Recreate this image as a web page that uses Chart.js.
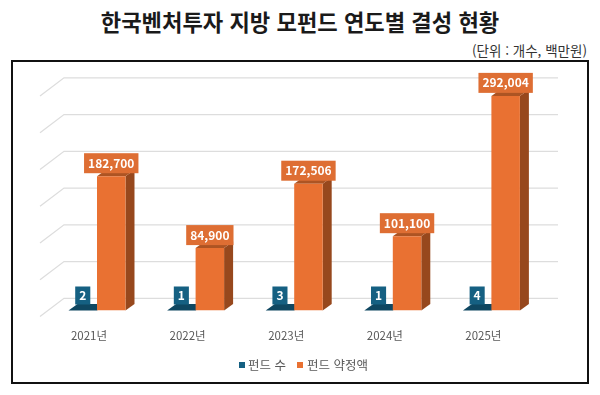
<!DOCTYPE html>
<html lang="ko">
<head>
<meta charset="utf-8">
<script src="https://cdn.jsdelivr.net/npm/chart.js@4"></script>
<style>
  html, body { margin: 0; padding: 0; background: #fff; }
  body { position: relative; width: 600px; height: 395px; overflow: hidden; font-family: "Noto Sans CJK KR", sans-serif; }
  #title { position: absolute; left: 0; top: 5px; width: 600px; text-align: center; font-size: 22.2px; font-weight: 700; line-height: 32px; color: #1a1a1a; }
  #unit { position: absolute; right: 13px; top: 41px; font-size: 13.5px; line-height: 18px; color: #333; }
  #frame { position: absolute; left: 11px; top: 60px; width: 578px; height: 324px; box-sizing: border-box; border: 2px solid #111; }
  #wrap { position: absolute; left: 0; top: 0; width: 600px; height: 395px; }
  .key { position: absolute; top: 356px; font-size: 12.5px; line-height: 18px; color: #595959; white-space: nowrap; }
  .swatch { position: absolute; top: 362px; width: 6px; height: 6px; }
</style>
</head>
<body>
<div id="title">한국벤처투자 지방 모펀드 연도별 결성 현황</div>
<div id="unit">(단위 : 개수, 백만원)</div>
<div id="frame"></div>
<div id="wrap"><canvas id="chart" width="600" height="395"></canvas></div>
<div id="legend"></div>
<script>
const categories = ['2021년', '2022년', '2023년', '2024년', '2025년'];
const fundCount = [2, 1, 3, 1, 4];
const fundAmount = [182700, 84900, 172506, 101100, 292004];
const seriesNames = ['펀드 수', '펀드 약정액'];

const depthX = 9, depthY = 6.5;
const faces = [
  { front: '#156082', top: '#0F4761', side: '#0F4761', lift: 6 },
  { front: '#E97132', top: '#AD5423', side: '#97481D', lift: 3 }
];

// back wall gridlines with the short diagonal on the left
const wallGrid = {
  id: 'wallGrid',
  beforeDatasetsDraw(chart) {
    const { ctx, scales: { y } } = chart;
    ctx.save();
    ctx.strokeStyle = '#DDDDDD';
    ctx.lineWidth = 1.3;
    y.ticks.forEach(t => {
      const py = y.getPixelForValue(t.value) - 12.2;
      ctx.beginPath();
      ctx.moveTo(40, py + 18.3);
      ctx.lineTo(64, py);
      ctx.lineTo(558, py);
      ctx.stroke();
    });
    ctx.restore();
  }
};

// fake 3d: side and top faces go under the bars chart.js draws
const barDepth = {
  id: 'barDepth',
  beforeDatasetsDraw(chart) {
    const { ctx } = chart;
    ctx.save();
    chart.data.datasets.forEach((ds, i) => {
      chart.getDatasetMeta(i).data.forEach(bar => {
        const l = bar.x - bar.width / 2, r = bar.x + bar.width / 2;
        ctx.fillStyle = faces[i].side;
        ctx.beginPath();
        ctx.moveTo(r, bar.base);
        ctx.lineTo(r + depthX, bar.base - depthY);
        ctx.lineTo(r + depthX, bar.y - depthY);
        ctx.lineTo(r, bar.y);
        ctx.closePath();
        ctx.fill();
        ctx.fillStyle = faces[i].top;
        ctx.beginPath();
        ctx.moveTo(l, bar.y);
        ctx.lineTo(r, bar.y);
        ctx.lineTo(r + depthX, bar.y - depthY);
        ctx.lineTo(l + depthX, bar.y - depthY);
        ctx.closePath();
        ctx.fill();
      });
    });
    ctx.restore();
  }
};

// value labels in filled boxes
const valueBoxes = {
  id: 'valueBoxes',
  afterDatasetsDraw(chart) {
    const { ctx } = chart;
    ctx.save();
    ctx.textAlign = 'center';
    ctx.textBaseline = 'middle';
    ctx.font = '700 12px "Noto Sans CJK KR"';
    chart.data.datasets.forEach((ds, i) => {
      chart.getDatasetMeta(i).data.forEach((bar, j) => {
        const text = ds.data[j].toLocaleString('en-US');
        const w = ctx.measureText(text).width + 8;
        const h = i === 0 ? 18 : 20;
        const bottom = bar.y - faces[i].lift;
        ctx.fillStyle = i === 0 ? '#156082' : '#DE6E33';
        ctx.fillRect(bar.x - w / 2, bottom - h, w, h);
        ctx.fillStyle = '#fff';
        ctx.fillText(text, bar.x, bottom - h / 2);
      });
    });
    ctx.restore();
  }
};

new Chart(document.getElementById('chart'), {
  type: 'bar',
  data: {
    labels: categories,
    datasets: [
      { label: seriesNames[0], data: fundCount, backgroundColor: faces[0].front },
      { label: seriesNames[1], data: fundAmount, backgroundColor: faces[1].front }
    ]
  },
  options: {
    responsive: false,
    animation: false,
    categoryPercentage: 0.578,
    barPercentage: 1,
    layout: { padding: { left: 47.7, right: 59.3, top: 90, bottom: 0 } },
    plugins: {
      tooltip: { enabled: false },
      legend: { display: false }
    },
    scales: {
      x: {
        grid: { display: false },
        border: { display: false },
        ticks: { color: '#595959', padding: 10.5, labelOffset: -8, font: { family: '"Noto Sans CJK KR"', size: 11.5 } },
        afterFit(s) { s.height = 84.5; }
      },
      y: {
        display: false,
        min: 0,
        max: 300000,
        ticks: { stepSize: 50000 }
      }
    }
  },
  plugins: [wallGrid, barDepth, valueBoxes]
});

// legend sits tighter than the built-in one allows
const legendX = [[239, 248], [297, 307]];
document.getElementById('legend').innerHTML = seriesNames.map((name, i) =>
  `<span class="swatch" style="left:${legendX[i][0]}px;background:${faces[i].front}"></span>` +
  `<span class="key" style="left:${legendX[i][1]}px">${name}</span>`
).join('');
</script>
</body>
</html>
